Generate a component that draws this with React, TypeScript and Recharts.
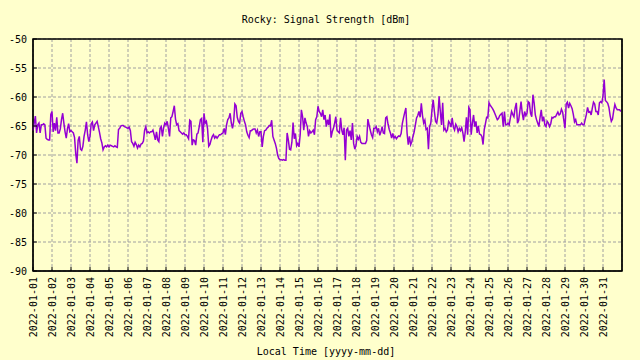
import { LineChart, Line, XAxis, YAxis, CartesianGrid, ReferenceArea } from "recharts"

const dayLabels = [
  "2022-01-01", "2022-01-02", "2022-01-03", "2022-01-04", "2022-01-05", "2022-01-06",
  "2022-01-07", "2022-01-08", "2022-01-09", "2022-01-10", "2022-01-11", "2022-01-12",
  "2022-01-13", "2022-01-14", "2022-01-15", "2022-01-16", "2022-01-17", "2022-01-18",
  "2022-01-19", "2022-01-20", "2022-01-21", "2022-01-22", "2022-01-23", "2022-01-24",
  "2022-01-25", "2022-01-26", "2022-01-27", "2022-01-28", "2022-01-29", "2022-01-30",
  "2022-01-31",
]

// readings every 1.5 h through each day
const sampleHours = [0, 1.5, 3, 4.5, 6, 7.5, 9, 10.5, 12, 13.5, 15, 16.5, 18, 19.5, 21, 22.5]

const yTicks = [-90, -85, -80, -75, -70, -65, -60, -55, -50]

// signal strength in dBm, one row per day
const dbmByDay = [
  [-65.8, -64.5, -63.3, -66.2, -64.8, -64.5, -66.2, -64.8, -64.8, -64.6, -64.8, -67.1, -67.3, -67.4, -67.4, -63],
  [-62.5, -66, -64.5, -65.8, -63.5, -66.2, -66.2, -65.5, -63.9, -62.8, -64.5, -66, -67.1, -65.5, -64.6, -66],
  [-65.8, -66, -66.2, -67, -69.8, -71.4, -67.5, -66.8, -69, -69.2, -68.5, -66.8, -65.7, -64.3, -66.5, -67.7],
  [-66.8, -64.6, -64.3, -65.8, -64.8, -64.5, -64.2, -65.1, -66.1, -67.2, -67.9, -69.1, -68.6, -68.4, -68.6, -68.3],
  [-68.6, -68.3, -68.4, -68.5, -68.6, -68.4, -68.6, -68.7, -65.6, -65.4, -65, -64.9, -64.9, -65.1, -65.2, -65.3],
  [-65.4, -65.2, -65.8, -67.7, -68, -68.5, -67.8, -68.2, -68.8, -68.3, -68.6, -68.1, -68, -67.6, -65.7, -65.1],
  [-66.2, -66, -66.2, -66, -66, -65.7, -66.5, -67.4, -66, -67.4, -67.7, -65.4, -65.1, -66.8, -65.3, -64.5],
  [-64.8, -64.2, -65.4, -66.8, -63.6, -63.4, -62.5, -61.5, -63.8, -64.8, -64.6, -65.8, -66, -66.2, -66.4, -66.2],
  [-66.5, -66.5, -66.8, -67.2, -64, -64.2, -68.3, -67.4, -67.5, -68.3, -66.4, -66.2, -65.1, -63.9, -63.7, -67.8],
  [-62.8, -64.5, -64.2, -65.5, -68.5, -68.2, -67.4, -66.8, -66.5, -67.1, -66.8, -67.1, -66.8, -66.5, -66.5, -66.3],
  [-66.2, -65.4, -66.5, -64.8, -63.9, -63.6, -62.8, -64.5, -65.4, -64.2, -61.2, -61.5, -63.5, -64.2, -64.5, -62.8],
  [-62.5, -63.4, -64.2, -64.8, -66, -66.6, -67, -65.8, -65.8, -65.6, -65.5, -65.5, -66.2, -65.7, -66.8, -66],
  [-66, -68.6, -66.8, -65.8, -65.7, -65.4, -65.2, -64.9, -65, -64, -66.8, -67.4, -68, -68.8, -70, -70.6],
  [-70.8, -70.8, -70.9, -70.8, -70.9, -70.9, -66.2, -67.4, -69, -69.1, -67.8, -64.4, -67.2, -66.3, -68.4, -68],
  [-68.6, -66.5, -62.2, -63.4, -65.7, -63.6, -64.5, -65.1, -66.8, -65.8, -66.2, -66, -65.7, -66.5, -63.9, -63.4],
  [-61.6, -62.5, -62.8, -63.4, -62.2, -63.9, -63.1, -65.1, -63.9, -64.8, -63, -67, -66, -65.4, -64.5, -63.4],
  [-65.7, -66, -66.2, -63.6, -65.7, -66.5, -65.3, -70.9, -65.7, -65.4, -66.8, -65.8, -67.4, -64.5, -68, -69],
  [-68.3, -66.8, -67.3, -66.8, -67.8, -68, -68, -68, -68, -67.5, -63.8, -64.8, -65.7, -66.5, -67, -65.4],
  [-65.4, -65.1, -66, -65.4, -66.6, -66, -65.1, -66.2, -66.3, -63.6, -63.4, -64.7, -65.6, -66.2, -67.1, -66.3],
  [-67.1, -66.8, -67.2, -66.9, -66.7, -66.8, -66.3, -64.6, -63.6, -62.7, -61.9, -66.2, -68.2, -66.8, -68.2, -67.7],
  [-66.8, -66, -64.8, -63.6, -63.2, -62.5, -63.5, -61.1, -63.2, -64.5, -64, -65.6, -65.4, -69, -65.1, -64.5],
  [-62.2, -60.5, -62.5, -64.2, -64.5, -63.1, -59.9, -62.5, -64.8, -61, -65.7, -65.4, -66, -65.7, -64.2, -64.5],
  [-65.2, -63.6, -65.2, -65.7, -64.7, -65.1, -66, -65.4, -65.8, -65.3, -66.2, -67.7, -66, -63.5, -66.5, -61.8],
  [-62.2, -66.5, -64.5, -63.1, -65.1, -64.2, -66.2, -65, -66.4, -66.5, -66.8, -68.2, -65.6, -64.6, -63.5, -63.6],
  [-61, -61.4, -61.7, -62, -62.4, -62.9, -63.4, -63.9, -63.7, -63.2, -63, -62.8, -65.1, -62.5, -64.8, -64.8],
  [-64.5, -64.8, -63.6, -62.5, -63, -63.4, -61.9, -61, -64.5, -64, -62.4, -60.8, -62.8, -64, -62.5, -63.2],
  [-62.8, -60.8, -61, -62.8, -63.4, -59.6, -61, -63.1, -63.9, -64.5, -65.1, -63.5, -62.2, -64.2, -63.4, -64.8],
  [-65.1, -64.2, -64.5, -65.1, -64.6, -63.5, -63.6, -63.4, -63.4, -63, -62.6, -63.1, -62.9, -62.1, -62.6, -64],
  [-65.4, -61.2, -60.9, -61.9, -61.1, -61.5, -62, -63, -64.3, -63.9, -64.8, -64.8, -64.8, -64.8, -64.5, -64.8],
  [-64.8, -63.9, -63, -61.8, -62.6, -62.5, -63.1, -61.9, -60.9, -61.2, -62.5, -62.5, -63.1, -61, -60.8, -61],
  [-59.8, -57, -60.6, -60.8, -61.1, -61.8, -63.2, -64.2, -63.8, -62.4, -61.3, -61.9, -62.2, -62.2, -62.2, -62.5],
]

const data = dbmByDay.flatMap((vals, d) =>
  vals.map((v, i) => ({ t: d + sampleHours[i] / 24, dbm: v }))
)
const dayTicks = dayLabels.map((_, i) => i).concat([dayLabels.length])

const FONT = "'DejaVu Sans Mono', monospace"
const BG = "#ffffcc"

function XTick(props: any) {
  const { x, y, payload } = props
  const label = dayLabels[payload.value]
  if (!label) return null
  return (
    <g>
      <line x1={x} x2={x} y1={y - 6} y2={y - 10} stroke="#000" />
      <text
        x={x}
        y={y}
        transform={`rotate(-90 ${x} ${y})`}
        textAnchor="end"
        dominantBaseline="central"
        fontFamily={FONT}
        fontSize={10}
        fill="#000"
      >
        {label}
      </text>
    </g>
  )
}

function YTick(props: any) {
  const { x, y, payload } = props
  return (
    <g>
      <line x1={x + 6} x2={x + 10} y1={y} y2={y} stroke="#000" />
      <text x={x} y={y} textAnchor="end" dominantBaseline="central" fontFamily={FONT} fontSize={10} fill="#000">
        {String(payload.value)}
      </text>
    </g>
  )
}

function RightTick(props: any) {
  const { x, y } = props
  return <line x1={x - 6} x2={x - 10} y1={y} y2={y} stroke="#000" />
}

export default function App() {
  return (
    <div style={{ position: "absolute", left: 0, top: 0, width: 640, height: 360, background: BG }}>
      <div
        style={{
          position: "absolute", left: 0, top: 14, width: 652, textAlign: "center",
          fontFamily: FONT, fontSize: 10, lineHeight: "12px", color: "#000",
        }}
      >
        Rocky: Signal Strength [dBm]
      </div>
      <LineChart width={640} height={360} data={data} margin={{ top: 39, right: 0, left: 0, bottom: 0 }}>
        <CartesianGrid stroke="#a0a0a0" strokeDasharray="3 2" />
        <XAxis
          dataKey="t"
          type="number"
          domain={[0, 31]}
          ticks={dayTicks}
          interval={0}
          height={89}
          tickSize={0}
          tickMargin={6}
          tickLine={false}
          axisLine={{ stroke: "#000" }}
          tick={<XTick />}
        />
        <YAxis
          type="number"
          domain={[-90, -50]}
          ticks={yTicks}
          interval={0}
          width={33}
          tickSize={0}
          tickMargin={6}
          tickLine={false}
          axisLine={{ stroke: "#000" }}
          tick={<YTick />}
        />
        <YAxis
          yAxisId="right"
          orientation="right"
          type="number"
          domain={[-90, -50]}
          ticks={yTicks}
          interval={0}
          width={18}
          tickSize={0}
          tickMargin={6}
          tickLine={false}
          axisLine={{ stroke: "#000" }}
          tick={<RightTick />}
        />
        <ReferenceArea x1={0} x2={31} y1={-90} y2={-50} fill="none" stroke="#000" strokeWidth={1.5} />
        <Line
          dataKey="dbm"
          type="linear"
          stroke="#9400d3"
          strokeWidth={1.5}
          dot={false}
          isAnimationActive={false}
        />
      </LineChart>
      <div
        style={{
          position: "absolute", left: 0, top: 346, width: 652, textAlign: "center",
          fontFamily: FONT, fontSize: 10, lineHeight: "12px", color: "#000",
        }}
      >
        Local Time [yyyy-mm-dd]
      </div>
    </div>
  )
}
